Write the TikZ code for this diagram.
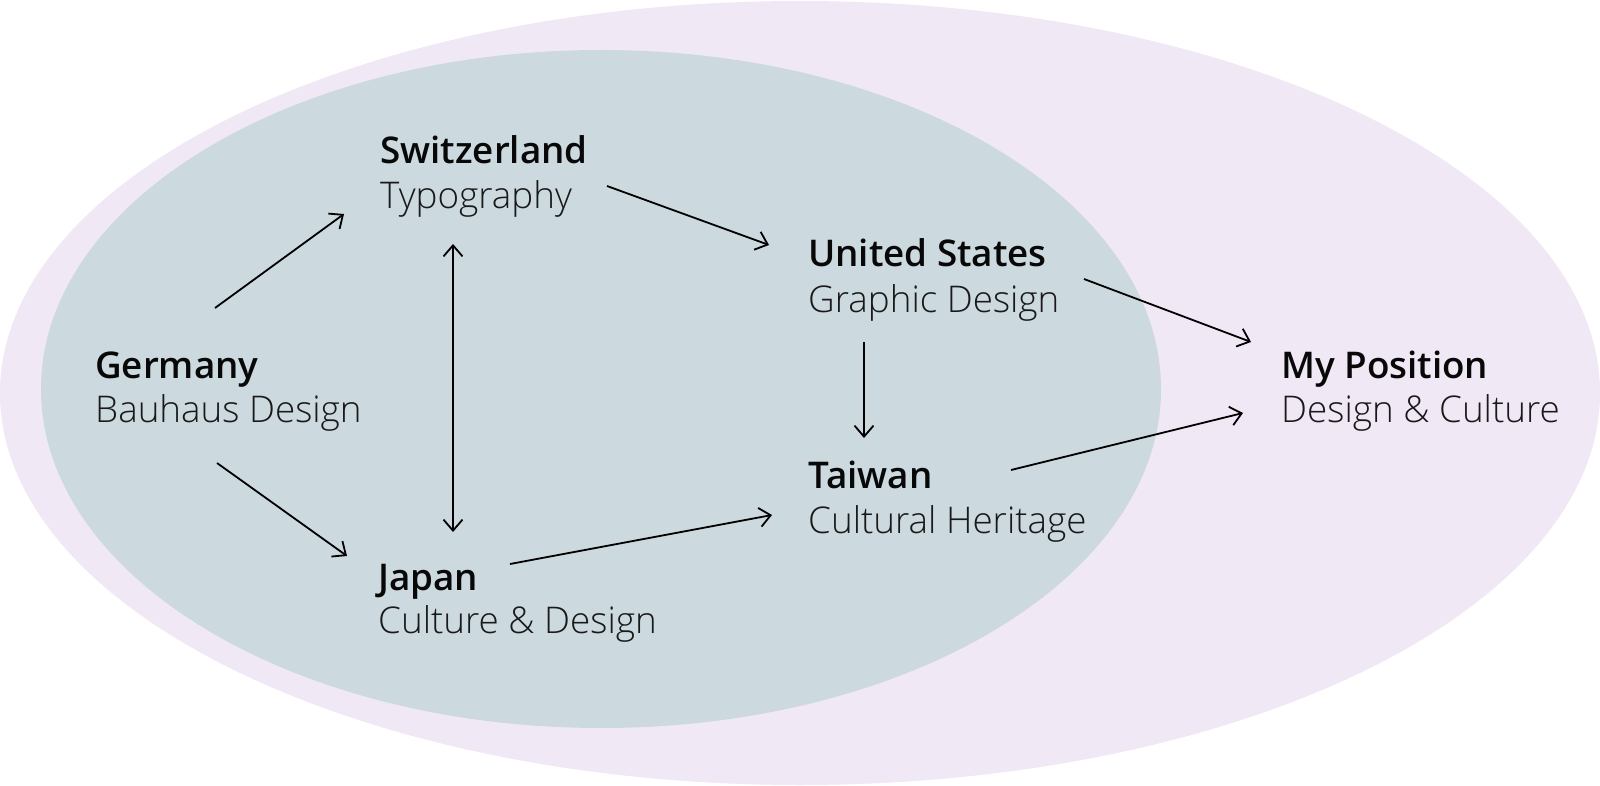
\documentclass[tikz,border=0pt]{standalone}
\usepackage{fontspec}
\IfFontExistsTF{Open Sans SemiBold}{\newfontfamily\tfont{Open Sans SemiBold}}{%
  \IfFontExistsTF{Open Sans Semibold}{\newfontfamily\tfont{Open Sans Semibold}}{%
    \newfontfamily\tfont{Open Sans}[UprightFont=*,BoldFont=*,UprightFeatures={FakeBold=1.6}]}}
\IfFontExistsTF{Open Sans Light}{\newfontfamily\sfont{Open Sans Light}}{%
  \newfontfamily\sfont{Open Sans}}
\usetikzlibrary{arrows.meta}
\definecolor{outerc}{RGB}{241,232,245}
\definecolor{innerc}{RGB}{204,217,223}
\definecolor{titlec}{RGB}{8,8,8}
\definecolor{subc}{RGB}{25,25,25}
\tikzset{
  ttl/.style={anchor=base west, inner sep=0pt, text=titlec, font=\tfont\fontsize{36.8}{44}\selectfont},
  sub/.style={anchor=base west, inner sep=0pt, text=subc, font=\sfont\fontsize{36.8}{44}\selectfont},
  arr/.style={draw=black, line width=1.8pt, -{Straight Barb[length=11pt,width=19pt,line width=1.8pt]}},
  darr/.style={arr, {Straight Barb[length=11pt,width=19pt,line width=1.8pt]}-{Straight Barb[length=11pt,width=19pt,line width=1.8pt]}}
}
\begin{document}
\begin{tikzpicture}[x=1pt,y=-1pt]
\useasboundingbox (0,0) rectangle (1600,786);
\fill[white] (0,0) rectangle (1600,786);
\fill[outerc] (800,393) ellipse [x radius=800, y radius=392];
\fill[innerc] (601,389) ellipse [x radius=560, y radius=339];

\node[ttl] (ger) at (95,378) {Germany};
\node[sub] (gers) at (95,422) {Bauhaus Design};
\node[ttl] (swi) at (380,164) {Switzerland};
\node[sub] (swis) at (380,209) {Typography};
\node[ttl] (us) at (808,267) {United States};
\node[sub] (uss) at (808,312) {Graphic Design};
\node[ttl] (tai) at (808,488) {Taiwan};
\node[sub] (tais) at (808,533) {Cultural Heritage};
\node[ttl] (jap) at (378,590) {Japan};
\node[sub] (japs) at (378,633) {Culture \& Design};
\node[ttl] (my) at (1281,378) {My Position};
\node[sub] (mys) at (1281,422) {Design \& Culture};

\draw[arr] ([shift={(120,-70)}]ger.base west) -- ([shift={(-36,50)}]swi.base west);
\draw[arr] ([shift={(122,85)}]ger.base west) -- ([shift={(-31,-34)}]jap.base west);
\draw[darr] ([shift={(73,80)}]swi.base west) -- ([shift={(75,-58)}]jap.base west);
\draw[arr] ([shift={(227,22)}]swi.base west) -- ([shift={(-39,-22)}]us.base west);
\draw[arr] ([shift={(56,75)}]us.base west) -- ([shift={(56,-50)}]tai.base west);
\draw[arr] ([shift={(132,-26)}]jap.base west) -- ([shift={(-36,27)}]tai.base west);
\draw[arr] ([shift={(276,12)}]us.base west) -- ([shift={(-30,-36)}]my.base west);
\draw[arr] ([shift={(203,-18)}]tai.base west) -- ([shift={(-38,35)}]my.base west);
\end{tikzpicture}
\end{document}
